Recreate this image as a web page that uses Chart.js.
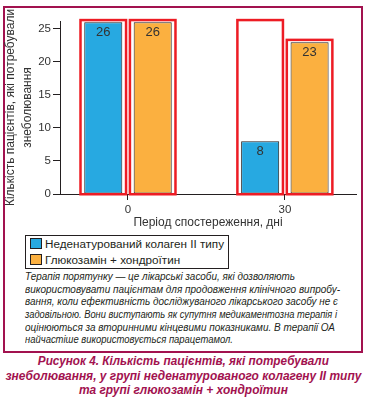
<!DOCTYPE html>
<html>
<head>
<meta charset="utf-8">
<script src="https://cdn.jsdelivr.net/npm/chart.js@4/dist/chart.umd.min.js"></script>
<style>
	body {
		margin: 0;
		width: 366px;
		height: 408px;
		position: relative;
		overflow: hidden;
		background: #fff;
		font-family: "Liberation Sans", Arial, sans-serif;
		color: #231f20;
	}
	.fig-frame {
		position: absolute;
		left: 3px;
		top: 6px;
		width: 356px;
		height: 343px;
		border: 2px solid #a2124f;
	}
	#chart-canvas {
		position: absolute;
		left: 0;
		top: 0;
	}
	.fig-legend {
		position: absolute;
		left: 25px;
		top: 235px;
		width: 202px;
		height: 32px;
		border: 1px solid #231f20;
		font-size: 11.7px;
	}
	.fig-legend .item {
		height: 16px;
		line-height: 16px;
		white-space: nowrap;
	}
	.fig-legend .swatch {
		display: inline-block;
		width: 10px;
		height: 9px;
		margin: 0 3px 0 4px;
		border: 1px solid #231f20;
		vertical-align: -1px;
	}
	.fig-note {
		position: absolute;
		left: 25px;
		top: 270px;
		width: 340px;
		font-size: 10.6px;
		line-height: 12.7px;
		font-style: italic;
		white-space: nowrap;
	}
	.fig-note div { height: 12.7px; }
	.fig-note span {
		display: inline-block;
		transform-origin: 0 0;
	}
	.fig-caption {
		position: absolute;
		left: -117px;
		top: 354px;
		width: 600px;
		text-align: center;
		font-size: 13.2px;
		line-height: 14.5px;
		font-weight: bold;
		font-style: italic;
		color: #a2124f;
		white-space: nowrap;
	}
	.fig-caption div { height: 14.5px; }
	.fig-caption span {
		display: inline-block;
		transform-origin: 50% 0;
	}
</style>
</head>
<body>
<div class="fig-frame"></div>
<canvas id="chart-canvas" width="366" height="232"></canvas>
<div class="fig-legend" id="fig-legend"></div>
<div class="fig-note">
	<div><span data-w="270">Терапія порятунку — це лікарські засоби, які дозволяють</span></div>
	<div><span data-w="315">використовувати пацієнтам для продовження клінічного випробу-</span></div>
	<div><span data-w="313">вання, коли ефективність досліджуваного лікарського засобу не є</span></div>
	<div><span data-w="312">задовільною. Вони виступають як супутня медикаментозна терапія і</span></div>
	<div><span data-w="310">оцінюються за вторинними кінцевими показниками. В терапії ОА</span></div>
	<div><span data-w="208">найчастіше використовується парацетамол.</span></div>
</div>
<div class="fig-caption">
	<div><span data-w="291">Рисунок 4. Кількість пацієнтів, які потребували</span></div>
	<div><span data-w="356">знеболювання, у групі неденатурованого колагену II типу</span></div>
	<div><span data-w="209">та групі глюкозамін + хондроїтин</span></div>
</div>
<script>
	// chart data
	var periods = [0, 30];
	var yTicks = [0, 5, 10, 15, 20, 25];
	var collagenValues = [26, 8];
	var glucosamineValues = [26, 23];
	// level up to which the red highlight frame around each bar reaches
	var collagenHighlight = [26, 26];
	var glucosamineHighlight = [26, 23];
	var seriesLabels = ['Неденатурований колаген II типу', 'Глюкозамін + хондроїтин'];
	var seriesColors = ['#27a9e1', '#fbb040'];
	var yTitle = ['Кількість пацієнтів, які потребували', 'знеболювання'];
	var xTitle = 'Період спостереження, дні';

	var fontFamily = '"Liberation Sans", Arial, sans-serif';
	Chart.defaults.font.family = fontFamily;

	function toPoints(values) {
		return periods.map(function(p, i) {
			return { x: p, y: values[i] };
		});
	}

	// draws red highlight frames and the value labels inside the bars
	var barExtrasPlugin = {
		id: 'barExtras',
		afterDatasetsDraw: function(chart) {
			var ctx = chart.ctx;
			var yScale = chart.scales.y;

			chart.data.datasets.forEach(function(ds, di) {
				var meta = chart.getDatasetMeta(di);
				meta.data.forEach(function(bar, i) {
					var p = bar.getProps(['x', 'y', 'base', 'width'], true);
					var top = yScale.getPixelForValue(ds.highlight[i]) - 2.25;
					var bottom = p.base + 0.75;

					ctx.save();
					ctx.strokeStyle = '#ed1c24';
					ctx.lineWidth = 2.5;
					ctx.strokeRect(p.x - p.width / 2 - 3.75, top, p.width + 7.5, bottom - top);

					ctx.fillStyle = '#333';
					ctx.font = '13px ' + fontFamily;
					ctx.textAlign = 'center';
					ctx.textBaseline = 'middle';
					ctx.fillText(ds.data[i].y, p.x, p.y + 10);
					ctx.restore();
				});
			});
		}
	};

	var chart = new Chart(document.getElementById('chart-canvas'), {
		type: 'bar',
		data: {
			datasets: [
				{
					label: seriesLabels[0],
					data: toPoints(collagenValues),
					highlight: collagenHighlight,
					backgroundColor: seriesColors[0]
				},
				{
					label: seriesLabels[1],
					data: toPoints(glucosamineValues),
					highlight: glucosamineHighlight,
					backgroundColor: seriesColors[1]
				}
			]
		},
		options: {
			responsive: false,
			animation: false,
			devicePixelRatio: 1,
			layout: { padding: { top: 21, right: 10, bottom: 0, left: 0 } },
			datasets: {
				bar: {
					borderColor: '#231f20',
					borderWidth: 1,
					borderSkipped: false,
					categoryPercentage: 0.63,
					barPercentage: 0.77
				}
			},
			plugins: {
				legend: { display: false },
				tooltip: { enabled: false }
			},
			scales: {
				x: {
					type: 'linear',
					offset: false,
					min: -13,
					max: 43.6,
					afterBuildTicks: function(scale) {
						scale.ticks = periods.map(function(v) { return { value: v }; });
					},
					afterFit: function(scale) {
						scale.height = 38;
					},
					grid: { offset: false, drawOnChartArea: false, drawTicks: true, tickLength: 6, color: '#231f20' },
					border: { display: true, color: '#231f20', width: 1 },
					ticks: { padding: 3, color: '#333', font: { size: 11.5 } },
					title: {
						display: true,
						text: xTitle,
						color: '#333',
						font: { size: 12 },
						padding: { top: 0, bottom: 2 }
					}
				},
				y: {
					min: 0,
					max: 26.2,
					afterBuildTicks: function(scale) {
						scale.ticks = yTicks.map(function(v) { return { value: v }; });
					},
					afterFit: function(scale) {
						scale.width = 60;
					},
					grid: { drawOnChartArea: false, drawTicks: true, tickLength: 7, color: '#231f20' },
					border: { display: true, color: '#231f20', width: 1 },
					ticks: { padding: 2, color: '#333', font: { size: 11.5 } },
					title: {
						display: true,
						text: yTitle,
						color: '#333',
						font: { size: 12, lineHeight: 1.35 },
						padding: { top: 3, bottom: 0 }
					}
				}
			}
		},
		plugins: [barExtrasPlugin]
	});

	// legend with a border, built from the chart datasets
	var legendEl = document.getElementById('fig-legend');
	chart.data.datasets.forEach(function(ds) {
		var item = document.createElement('div');
		item.className = 'item';
		var swatch = document.createElement('span');
		swatch.className = 'swatch';
		swatch.style.background = ds.backgroundColor;
		item.appendChild(swatch);
		item.appendChild(document.createTextNode(ds.label));
		legendEl.appendChild(item);
	});

	// squeeze each text line to the width it has in the printed figure
	document.querySelectorAll('span[data-w]').forEach(function(el) {
		var w = el.getBoundingClientRect().width;
		var target = parseFloat(el.getAttribute('data-w'));
		if (w > 0) {
			el.style.transform = 'scaleX(' + (target / w).toFixed(4) + ')';
		}
	});
</script>
</body>
</html>
